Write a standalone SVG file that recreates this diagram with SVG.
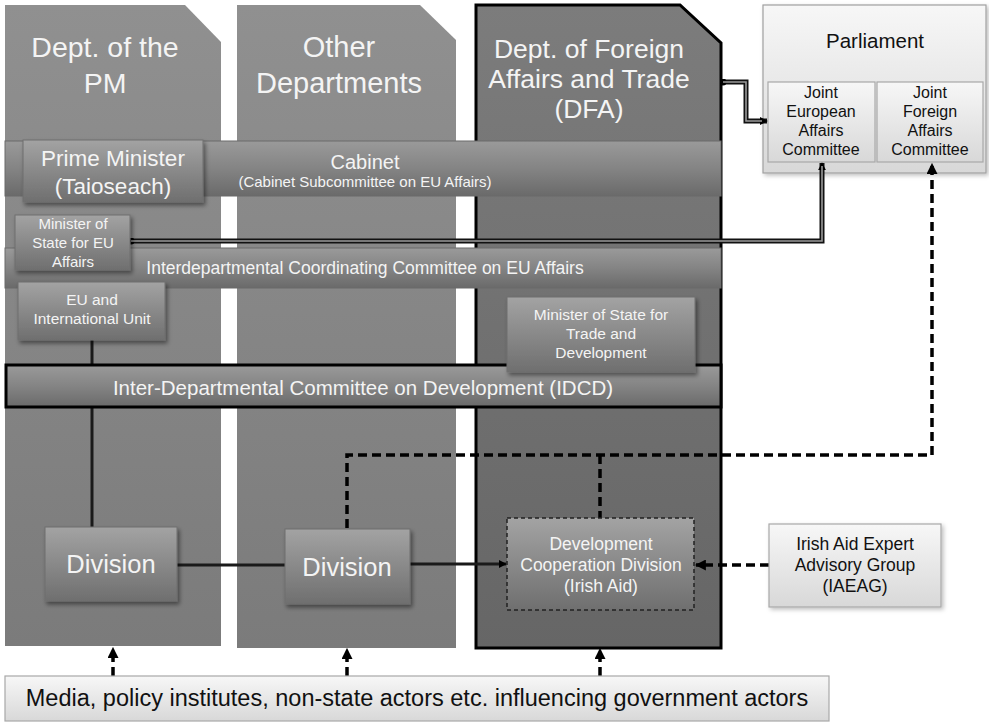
<svg xmlns="http://www.w3.org/2000/svg" width="989" height="724" viewBox="0 0 989 724">
<style>
text{font-family:"Liberation Sans",Arial,sans-serif;text-anchor:middle}
.w{fill:#f4f4f4}
.k{fill:#111}
.col{fill:url(#colG)}
.bar{fill:url(#barG);stroke:#6a6a6a;stroke-width:1}
.box{fill:url(#boxG);stroke:#6f6f6f;stroke-width:1;filter:url(#sh)}
.lbox{fill:url(#lightG);stroke:#a8a8a8;stroke-width:1.2}
.solid{fill:none;stroke:#1a1a1a;stroke-width:3}
.dash{fill:none;stroke:#000;stroke-width:3.5;stroke-dasharray:9 5}
.dbl{fill:none;stroke:#111;stroke-width:5}
.dbli{fill:none;stroke:#9a9a9a;stroke-width:1.6}
</style>
<defs>
<linearGradient id="colG" x1="0" y1="0" x2="0" y2="1"><stop offset="0" stop-color="#909090"/><stop offset="1" stop-color="#7b7b7b"/></linearGradient>
<linearGradient id="dfaG" x1="0" y1="0" x2="0" y2="1"><stop offset="0" stop-color="#7c7c7c"/><stop offset="1" stop-color="#666"/></linearGradient>
<linearGradient id="barG" x1="0" y1="0" x2="0" y2="1"><stop offset="0" stop-color="#9a9a9a"/><stop offset="0.5" stop-color="#848484"/><stop offset="1" stop-color="#6a6a6a"/></linearGradient>
<linearGradient id="boxG" x1="0" y1="0" x2="0" y2="1"><stop offset="0" stop-color="#a3a3a3"/><stop offset="1" stop-color="#6f6f6f"/></linearGradient>
<linearGradient id="lightG" x1="0" y1="0" x2="0" y2="1"><stop offset="0" stop-color="#f7f7f7"/><stop offset="1" stop-color="#d8d8d8"/></linearGradient>
<filter id="sh" x="-10%" y="-10%" width="130%" height="140%"><feDropShadow dx="2" dy="3" stdDeviation="2" flood-color="#000" flood-opacity="0.45"/></filter>
<filter id="sh2" x="-10%" y="-10%" width="130%" height="140%"><feDropShadow dx="2" dy="2" stdDeviation="2" flood-color="#000" flood-opacity="0.25"/></filter>
<marker id="arr" viewBox="0 0 10 10" refX="9" refY="5" markerWidth="11" markerHeight="11" markerUnits="userSpaceOnUse" orient="auto"><path d="M0,0 L10,5 L0,10 z" fill="#000"/></marker>
<marker id="arrS" viewBox="0 0 10 10" refX="9" refY="5" markerWidth="8" markerHeight="8" markerUnits="userSpaceOnUse" orient="auto"><path d="M0,0 L10,5 L0,10 z" fill="#000"/></marker>
<marker id="dot" viewBox="0 0 10 10" refX="5" refY="5" markerWidth="7" markerHeight="7" markerUnits="userSpaceOnUse"><circle cx="5" cy="5" r="5" fill="#000"/></marker>
</defs>

<g id="dept-pm">
<path class="col" d="M5,5 H185 L221,42 V646 H5 Z"/>
<text class="w" font-size="28.5" x="105" y="57">Dept. of the</text>
<text class="w" font-size="28.5" x="105" y="93">PM</text>
</g>
<g id="other-depts">
<path class="col" d="M237,5 H420 L456,40 V648 H237 Z"/>
<text class="w" font-size="29" x="339" y="57">Other</text>
<text class="w" font-size="29" x="339" y="93">Departments</text>
</g>
<g id="dfa">
<path d="M476,5 H680 L721,43 V648 H476 Z" fill="url(#dfaG)" stroke="#000" stroke-width="3"/>
<text class="w" font-size="26.5" x="589" y="58">Dept. of Foreign</text>
<text class="w" font-size="26.5" x="589" y="88">Affairs and Trade</text>
<text class="w" font-size="26.5" x="589" y="118">(DFA)</text>
</g>
<g id="parliament">
<rect x="763" y="5" width="223" height="168" fill="url(#lightG)" stroke="#a0a0a0" stroke-width="1.2" filter="url(#sh2)"/>
<text class="k" font-size="20.5" x="875" y="48">Parliament</text>
</g>
<g id="jeac">
<rect class="lbox" x="768" y="82" width="107" height="80"/>
<text class="k" font-size="16" x="821" y="98">Joint</text>
<text class="k" font-size="16" x="821" y="117">European</text>
<text class="k" font-size="16" x="821" y="136">Affairs</text>
<text class="k" font-size="16" x="821" y="155">Committee</text>
</g>
<g id="jfac">
<rect class="lbox" x="877" y="82" width="106" height="80"/>
<text class="k" font-size="16" x="930" y="98">Joint</text>
<text class="k" font-size="16" x="930" y="117">Foreign</text>
<text class="k" font-size="16" x="930" y="136">Affairs</text>
<text class="k" font-size="16" x="930" y="155">Committee</text>
</g>

<g id="connectors">
<path class="solid" d="M92,340 V527"/>
<path class="solid" d="M177,565 H285"/>
<path class="solid" d="M410,564 H506" marker-end="url(#arrS)"/>
<path class="dbl" d="M131,241 H822 V163" marker-start="url(#dot)" marker-end="url(#arrS)"/>
<path class="dbli" d="M131,241 H822 V166"/>
<path class="dbl" d="M723,82 H746 V121 H767" marker-start="url(#dot)" marker-end="url(#arrS)"/>
<path class="dbli" d="M723,82 H746 V121 H762"/>
<path class="dash" d="M347,528 V455 H932 V164" marker-end="url(#arr)"/>
<path class="dash" d="M600,455 V518"/>
<path class="dash" d="M769,565 H696" marker-end="url(#arr)"/>
<path class="dash" d="M113,676 V648" marker-end="url(#arr)"/>
<path class="dash" d="M347,676 V649" marker-end="url(#arr)"/>
<path class="dash" d="M600,676 V649" marker-end="url(#arr)"/>
</g>

<g id="cabinet">
<rect class="bar" x="5" y="141" width="716" height="55"/>
<text class="w" font-size="20" x="365" y="169">Cabinet</text>
<text class="w" font-size="15" x="365" y="187">(Cabinet Subcommittee on EU Affairs)</text>
</g>
<g id="prime-minister">
<rect class="box" x="23" y="140" width="180" height="62"/>
<text class="w" font-size="22.5" x="113" y="166">Prime Minister</text>
<text class="w" font-size="22.5" x="113" y="194">(Taioseach)</text>
</g>
<g id="interdept-eu">
<rect class="bar" x="5" y="248" width="716" height="40"/>
<text class="w" font-size="17.5" x="365" y="274">Interdepartmental Coordinating Committee on EU Affairs</text>
</g>
<g id="mos-eu">
<rect class="box" x="15" y="215" width="115" height="55"/>
<text class="w" font-size="15" x="73" y="229">Minister of</text>
<text class="w" font-size="15" x="73" y="248">State for EU</text>
<text class="w" font-size="15" x="73" y="267">Affairs</text>
</g>
<g id="eu-unit">
<rect class="box" x="18" y="282" width="147" height="58"/>
<text class="w" font-size="15.5" x="92" y="305">EU and</text>
<text class="w" font-size="15.5" x="92" y="324">International Unit</text>
</g>
<g id="idcd">
<rect x="6" y="365" width="715" height="42" fill="url(#barG)" stroke="#000" stroke-width="3"/>
<text class="w" font-size="20.5" x="363" y="395">Inter-Departmental Committee on Development (IDCD)</text>
</g>
<g id="mos-trade">
<rect class="box" x="507" y="297" width="188" height="75"/>
<text class="w" font-size="15.5" x="601" y="320">Minister of State for</text>
<text class="w" font-size="15.5" x="601" y="339">Trade and</text>
<text class="w" font-size="15.5" x="601" y="358">Development</text>
</g>
<g id="division-pm">
<rect class="box" x="45" y="527" width="132" height="74"/>
<text class="w" font-size="25.5" x="111" y="573">Division</text>
</g>
<g id="division-other">
<rect class="box" x="285" y="529" width="125" height="75"/>
<text class="w" font-size="25.5" x="347" y="576">Division</text>
</g>
<g id="dcd">
<rect x="507" y="518" width="187" height="92" fill="url(#boxG)" stroke="#222" stroke-width="1.5" stroke-dasharray="4 3"/>
<text class="w" font-size="17.5" x="601" y="550">Development</text>
<text class="w" font-size="17.5" x="601" y="571">Cooperation Division</text>
<text class="w" font-size="17.5" x="601" y="592">(Irish Aid)</text>
</g>
<g id="iaeag">
<rect class="lbox" x="769" y="524" width="172" height="83" filter="url(#sh2)"/>
<text class="k" font-size="17.5" x="855" y="550">Irish Aid Expert</text>
<text class="k" font-size="17.5" x="855" y="571">Advisory Group</text>
<text class="k" font-size="17.5" x="855" y="592">(IAEAG)</text>
</g>
<g id="media">
<rect class="lbox" x="5" y="676" width="824" height="45"/>
<text class="k" font-size="23.5" x="417" y="706">Media, policy institutes, non-state actors etc. influencing government actors</text>
</g>
</svg>
